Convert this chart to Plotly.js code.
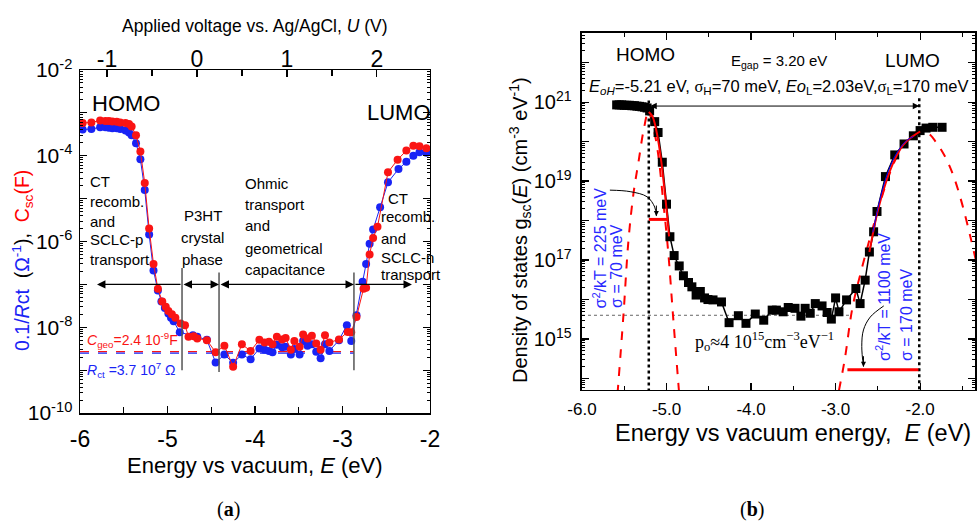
<!DOCTYPE html>
<html>
<head>
<meta charset="utf-8">
<script src="https://cdn.plot.ly/plotly-3.0.1.min.js"></script>
<style>html,body{margin:0;padding:0;background:#fff;}#chart{width:977px;height:522px;}</style>
</head>
<body>
<div id="chart"></div>
<script>
// ---------------- Panel (a) data ----------------
const E_csc = [-5.97,-5.87,-5.77,-5.71,-5.67,-5.63,-5.58,-5.54,-5.48,-5.44,-5.41,-5.36,-5.31,-5.26,-5.21,-5.16,-5.11,-5.06,-5.02,-4.99,-4.95,-4.91,-4.85,-4.80,-4.76,-4.70,-4.66,-4.55,-4.45,-4.35,-4.25,-4.15,-4.05,-3.95,-3.89,-3.84,-3.80,-3.75,-3.69,-3.65,-3.59,-3.55,-3.49,-3.45,-3.40,-3.35,-3.30,-3.25,-3.20,-3.15,-3.04,-2.94,-2.90,-2.84,-2.76,-2.73,-2.69,-2.65,-2.60,-2.48,-2.37,-2.27,-2.19,-2.12,-2.04];
const Csc = [5.8e-4,6.0e-4,6.6e-4,6.5e-4,6.5e-4,6.3e-4,6.2e-4,6.0e-4,5.8e-4,5.5e-4,4.8e-4,3.0e-4,1.26e-4,2.3e-5,2.0e-6,3.0e-7,7.9e-8,4.0e-8,3.0e-8,2.4e-8,2.0e-8,1.66e-8,1.23e-8,1.12e-8,6.0e-9,6.2e-9,5.5e-9,5.0e-9,2.6e-9,3.7e-9,1.2e-9,4.0e-9,2.8e-9,5.1e-9,4.4e-9,4.6e-9,4.0e-9,6.0e-9,5.2e-9,5.6e-9,3.0e-9,4.8e-9,3.5e-9,6.8e-9,5.5e-9,6.3e-9,4.2e-9,3.0e-9,6.5e-9,4.4e-9,5.2e-9,7.8e-9,7.6e-9,1.74e-8,7.9e-8,8.3e-8,5.0e-7,1.2e-6,2.2e-6,4.1e-5,8.1e-5,1.32e-4,1.7e-4,1.66e-4,1.5e-4];
const E_rct = [-5.97,-5.87,-5.77,-5.71,-5.67,-5.63,-5.58,-5.54,-5.48,-5.44,-5.41,-5.36,-5.31,-5.26,-5.21,-5.16,-5.11,-5.07,-5.03,-4.99,-4.96,-4.93,-4.86,-4.71,-4.66,-4.55,-4.45,-4.35,-4.25,-4.15,-4.05,-3.95,-3.89,-3.84,-3.80,-3.75,-3.69,-3.65,-3.59,-3.55,-3.49,-3.45,-3.40,-3.35,-3.30,-3.25,-3.20,-3.15,-3.04,-2.95,-2.90,-2.84,-2.77,-2.73,-2.69,-2.65,-2.57,-2.48,-2.36,-2.27,-2.19,-2.12,-2.04];
const invRct = [4.1e-4,4.2e-4,4.6e-4,4.6e-4,4.5e-4,4.4e-4,4.4e-4,4.2e-4,3.9e-4,3.5e-4,3.0e-4,1.95e-4,8.3e-5,1.6e-5,1.45e-6,2.1e-7,7.2e-8,4.0e-8,2.8e-8,2.1e-8,1.66e-8,1.38e-8,7.6e-9,6.5e-9,6.0e-9,5.1e-9,1.5e-9,2.3e-9,1.48e-9,2.3e-9,1.8e-9,3.2e-9,3.0e-9,2.8e-9,2.6e-9,3.9e-9,3.4e-9,3.5e-9,2.3e-9,3.1e-9,2.3e-9,4.8e-9,3.7e-9,4.0e-9,2.7e-9,1.9e-9,4.0e-9,2.8e-9,5.0e-9,1.12e-8,4.8e-9,1.9e-8,1.15e-7,3.0e-7,8.9e-7,1.9e-6,6.3e-6,2.4e-5,4.9e-5,7.2e-5,1.0e-4,1.2e-4,1.17e-4];
const cgeoLineE = [-6.0, -2.87];
const cgeoLineV = [2.7e-9, 2.7e-9];
const rctLineE = [-6.0, -2.87];
const rctLineV = [2.5e-9, 2.5e-9];
const regionBoundE = [-4.834, -4.411, -2.869];
const regionBoundTop = [2.4e-7, 1.9e-7, 1.9e-7];
const regionBoundBot = [1.0e-9, 9.1e-10, 1.0e-9];
const xTicksA = [-6,-5,-4,-3,-2];
const xTickTextA = ['-6','-5','-4','-3','-2'];
const uTicks = [-1,0,1,2];
const uTickText = ['-1','0','1','2'];
const yTicksA = [1e-10,1e-9,1e-8,1e-7,1e-6,1e-5,1e-4,1e-3,1e-2];
const yTickTextA = ['10<sup>-10</sup>','','10<sup>-8</sup>','','10<sup>-6</sup>','','10<sup>-4</sup>','','10<sup>-2</sup>'];

// ---------------- Panel (b) data ----------------
const E_dos = [-5.59,-5.56,-5.53,-5.50,-5.47,-5.44,-5.41,-5.38,-5.35,-5.32,-5.29,-5.26,-5.23,-5.20,-5.14,-5.10,-5.05,-5.00,-4.96,-4.91,-4.85,-4.80,-4.74,-4.70,-4.65,-4.60,-4.55,-4.51,-4.45,-4.35,-4.26,-4.15,-4.06,-3.95,-3.85,-3.75,-3.70,-3.62,-3.56,-3.48,-3.41,-3.36,-3.30,-3.24,-3.16,-3.10,-3.05,-3.00,-2.96,-2.87,-2.76,-2.71,-2.65,-2.60,-2.55,-2.51,-2.41,-2.30,-2.19,-2.08,-2.00,-1.93,-1.85,-1.74];
const gsc = [8.5e20,8.5e20,8.5e20,8.3e20,8.3e20,8.3e20,8.1e20,8.1e20,7.9e20,7.8e20,7.6e20,7.4e20,7.1e20,6.0e20,3.2e20,1.7e20,3.0e19,2.6e18,3.9e17,1.3e17,7.1e16,4.0e16,2.7e16,2.1e16,1.3e16,1.6e16,1.1e16,1.0e16,9.8e15,8.7e15,2.6e15,3.9e15,2.5e15,4.3e15,3.0e15,5.4e15,5.4e15,4.9e15,6.3e15,6.0e15,3.8e15,6.0e15,4.5e15,7.9e15,6.9e15,4.7e15,3.2e15,1.1e16,4.9e15,9.8e15,1.9e16,7.9e15,3.1e16,1.6e17,5.2e17,1.7e18,1.3e19,4.6e19,8.7e19,1.4e20,1.9e20,2.2e20,2.3e20,2.3e20];
const E_gaussH = [-5.58,-5.51,-5.45,-5.39,-5.33,-5.27,-5.215,-5.16,-5.10,-5.04,-4.98,-4.92,-4.85];
const gaussH = [4e13,4.0e15,3.2e17,5.0e18,3.2e19,2.0e20,5.6e20,2.5e20,5.0e19,3.2e18,1.6e17,3.2e15,4e13];
const E_gaussL = [-2.96,-2.89,-2.80,-2.70,-2.60,-2.50,-2.40,-2.30,-2.20,-2.10,-2.00,-1.90,-1.80,-1.70,-1.60,-1.50,-1.40,-1.33];
const gaussL = [5e13,3.2e14,6.3e15,5e16,3.2e17,1.8e18,8.9e18,3.2e19,7.9e19,1.4e20,1.9e20,1.6e20,8.9e19,4.0e19,1.26e19,2.5e18,3.5e17,7.9e16];
const E_fitH = [-5.21,-5.17,-5.14,-5.08,-5.02,-4.97];
const fitH = [5.6e20,4.5e20,2.9e20,6.0e19,5.0e18,4.0e17];
const E_fitL = [-2.60,-2.50,-2.40,-2.30,-2.20,-2.10,-2.00];
const fitL = [1.6e17,1.8e18,1.0e19,3.5e19,8.3e19,1.3e20,1.8e20];
const E_fitLb = [-2.56,-2.45,-2.35,-2.25,-2.15,-2.08];
const fitLb = [5.0e17,5.6e18,2.5e19,6.3e19,1.1e20,1.35e20];
const sigmaBarHE = [-5.21,-4.98];
const sigmaBarHV = [1.07e18,1.07e18];
const sigmaBarLE = [-2.86,-2.02];
const sigmaBarLV = [1.66e14,1.66e14];
const p0LineE = [-6.0,-2.83];
const p0LineV = [4e15,4e15];
const eoHLineE = [-5.21,-5.21];
const eoHLineV = [1.1e21,3e13];
const eoLLineE = [-2.01,-2.01];
const eoLLineV = [1.26e21,3e13];
const curveHE = [-5.67,-5.43,-5.23,-5.14,-5.12];
const curveHV = [5.9e18,5.4e18,4.0e18,2.2e18,1.3e18];
const curveLE = [-2.43,-2.59,-2.67,-2.69,-2.67];
const curveLV = [6.9e15,3.6e15,1.7e15,6.5e14,2.0e14];
const xTicksB = [-6,-5,-4,-3,-2];
const xTickTextB = ['-6.0','-5.0','-4.0','-3.0','-2.0'];
const yTicksB = [1e14,1e15,1e16,1e17,1e18,1e19,1e20,1e21,1e22];
const yTickTextB = ['','10<sup>15</sup>','','10<sup>17</sup>','','10<sup>19</sup>','','10<sup>21</sup>',''];

// ---------------- styling ----------------
const SANS = 'Liberation Sans, Arial, sans-serif';
const SERIF = 'Liberation Serif, Times New Roman, serif';
const RED = 'rgb(250,20,20)';
const BLUE = 'rgb(25,35,245)';
const TBLUE = 'rgb(40,40,255)';

function logMinor(lo, hi) {
  const v = [];
  for (let d = lo; d < hi; d++) for (let k = 2; k <= 9; k++) v.push(k * Math.pow(10, d));
  return v;
}

const traces = [
  {x: cgeoLineE, y: cgeoLineV, xaxis:'x', yaxis:'y', mode:'lines', line:{color:RED, width:1.2, dash:'dash'}},
  {x: rctLineE, y: rctLineV, xaxis:'x', yaxis:'y', mode:'lines', line:{color:BLUE, width:1.2, dash:'dash'}},
  {x: E_rct, y: invRct, xaxis:'x', yaxis:'y', mode:'lines+markers', line:{color:BLUE, width:1}, marker:{color:BLUE, size:8}},
  {x: E_csc, y: Csc, xaxis:'x', yaxis:'y', mode:'lines+markers', line:{color:RED, width:1}, marker:{color:RED, size:8}},
  {x: [null], y: [null], xaxis:'x2', yaxis:'y', mode:'markers', hoverinfo:'skip'},
  // panel b
  {x: p0LineE, y: p0LineV, xaxis:'x3', yaxis:'y2', mode:'lines', line:{color:'#666', width:1, dash:'dot'}},
  {x: eoHLineE, y: eoHLineV, xaxis:'x3', yaxis:'y2', mode:'lines', line:{color:'#000', width:2.5, dash:'dot'}},
  {x: eoLLineE, y: eoLLineV, xaxis:'x3', yaxis:'y2', mode:'lines', line:{color:'#000', width:2.5, dash:'dot'}},
  {x: E_gaussH, y: gaussH, xaxis:'x3', yaxis:'y2', mode:'lines', line:{color:'rgb(255,0,0)', width:2, dash:'dash', shape:'spline'}},
  {x: E_gaussL, y: gaussL, xaxis:'x3', yaxis:'y2', mode:'lines', line:{color:'rgb(255,0,0)', width:2, dash:'dash', shape:'spline'}},
  {x: E_dos, y: gsc, xaxis:'x3', yaxis:'y2', mode:'lines+markers', line:{color:'#000', width:1.5}, marker:{color:'#000', size:9, symbol:'square'}},
  {x: E_fitH, y: fitH, xaxis:'x3', yaxis:'y2', mode:'lines', line:{color:'rgb(255,0,0)', width:2, shape:'spline'}},
  {x: E_fitL, y: fitL, xaxis:'x3', yaxis:'y2', mode:'lines', line:{color:'rgb(255,0,0)', width:2, shape:'spline'}},
  {x: E_fitLb, y: fitLb, xaxis:'x3', yaxis:'y2', mode:'lines', line:{color:'rgb(0,0,255)', width:1, shape:'spline'}},
  {x: sigmaBarHE, y: sigmaBarHV, xaxis:'x3', yaxis:'y2', mode:'lines', line:{color:'rgb(255,0,0)', width:3}},
  {x: sigmaBarLE, y: sigmaBarLV, xaxis:'x3', yaxis:'y2', mode:'lines', line:{color:'rgb(255,0,0)', width:3}},
  {x: curveHE, y: curveHV, xaxis:'x3', yaxis:'y2', mode:'lines', line:{color:'#000', width:1, shape:'spline'}},
  {x: curveLE, y: curveLV, xaxis:'x3', yaxis:'y2', mode:'lines', line:{color:'#000', width:1, shape:'spline'}}
];
regionBoundE.forEach((e, i) => traces.push({x:[e,e], y:[regionBoundTop[i], regionBoundBot[i]], xaxis:'x', yaxis:'y', mode:'lines', line:{color:'#555', width:1.5}}));
traces.forEach(t => { t.showlegend = false; t.hoverinfo = 'skip'; });

const axBase = {showline:true, linecolor:'#000', linewidth:1.5, ticks:'inside', ticklen:7, tickwidth:1.2, tickcolor:'#000', showgrid:false, zeroline:false, tickmode:'array'};

const ann = [];
function txt(x, y, text, opts) {
  ann.push(Object.assign({x:x, y:y, xref:'x', yref:'y', text:text, showarrow:false, xanchor:'left', yanchor:'middle', font:{family:SANS, size:15, color:'#000'}}, opts || {}));
}
function lines(x, ys, arr, opts) { arr.forEach((t, i) => txt(x, ys[i], t, opts)); }

// panel (a) texts (y in log10 units)
txt(-5.886, -2.77, 'HOMO', {font:{family:SANS, size:22, color:'#000'}});
txt(-2.743, -2.98, 'LUMO', {font:{family:SANS, size:22, color:'#000'}});
lines(-5.909, [-4.604,-5.06,-5.536,-5.963,-6.413], ['CT','recomb.','and','SCLC-p','transport']);
lines(-4.60, [-5.387,-5.90,-6.43], ['P3HT','crystal','phase'], {xanchor:'center'});
lines(-4.141, [-4.641,-5.147,-5.636,-6.156,-6.662], ['Ohmic','transport','and','geometrical','capacitance']);
txt(-2.503, -4.99, 'CT');
lines(-2.579, [-5.42,-5.923,-6.366,-6.779], ['recomb.','and','SCLC-n','transport']);
txt(-5.943, -8.294, '<i>C</i><sub>geo</sub>=2.4 10<sup>-9</sup>F', {font:{family:SANS, size:14, color:RED}});
txt(-5.943, -8.993, '<i>R</i><sub>ct</sub> =3.7 10<sup>7</sup> Ω', {font:{family:SANS, size:14, color:BLUE}});
function arrow(xref, yref, x, y, ax, ay, both) {
  ann.push({xref:xref, yref:yref, x:x, y:y, axref:xref, ayref:yref, ax:ax, ay:ay, text:'', showarrow:true,
    arrowhead:2, arrowsize:1.3, arrowwidth:1.3, arrowcolor:'#000', arrowside: both ? 'end+start' : 'end', startarrowhead:2, startarrowsize:1.3});
}
arrow('x','y', -5.806, -7.0, regionBoundE[0], -7.0, false);
arrow('x','y', regionBoundE[1], -7.0, regionBoundE[0], -7.0, true);
arrow('x','y', regionBoundE[2], -7.0, regionBoundE[1], -7.0, true);
arrow('x','y', -2.206, -7.0, regionBoundE[2], -7.0, false);

// panel (b) texts
txt(-5.621, 22.193, 'HOMO', {xref:'x3', yref:'y2', font:{family:SANS, size:19, color:'#000'}});
txt(-3.669, 22.016, 'E<sub>gap</sub> = 3.20 eV', {xref:'x3', yref:'y2', xanchor:'center', font:{family:SANS, size:15, color:'#000'}});
txt(-2.438, 22.066, 'LUMO', {xref:'x3', yref:'y2', font:{family:SANS, size:19, color:'#000'}});
txt(-5.941, 21.383, '<i>E</i><sub><i>oH</i></sub>=-5.21 eV, <span style="font-family:Liberation Serif">σ</span><sub>H</sub>=70 meV, <i>Eo</i><sub>L</sub>=2.03eV,<span style="font-family:Liberation Serif">σ</span><sub>L</sub>=170 meV', {xref:'x3', yref:'y2', font:{family:SANS, size:16.5, color:'#000'}});
txt(-4.686, 14.927, 'p<sub>o</sub>≈4 10<sup>15</sup>cm<sup>−3</sup>eV<sup>−1</sup>', {xref:'x3', yref:'y2', font:{family:SERIF, size:18, color:'#000'}});
const rot = {xref:'x3', yref:'y2', textangle:-90, xanchor:'center', yanchor:'bottom', font:{family:SANS, size:16, color:TBLUE}};
txt(-5.787, 15.737, 'σ<sup>2</sup>/kT = 225 meV', rot);
txt(-5.586, 15.737, 'σ = 70 meV', rot);
txt(-2.438, 14.396, 'σ<sup>2</sup>/kT = 1100 meV', rot);
txt(-2.154, 14.396, 'σ = 170 meV', rot);
ann.push({xref:'x3', yref:'y2', x:-2.01, y:20.90, axref:'x3', ayref:'y2', ax:-5.21, ay:20.90, text:'', showarrow:true, arrowhead:2, arrowsize:1.3, arrowwidth:1, arrowcolor:'#000', arrowside:'end+start', startarrowhead:2, startarrowsize:1.3});
ann.push({xref:'x3', yref:'y2', x:-5.12, y:18.114, ax:0, ay:-12, text:'', showarrow:true, arrowhead:2, arrowsize:1, arrowwidth:1, arrowcolor:'#000'});
ann.push({xref:'x3', yref:'y2', x:-2.67, y:14.30, ax:0, ay:-12, text:'', showarrow:true, arrowhead:2, arrowsize:1, arrowwidth:1, arrowcolor:'#000'});

// axis titles & panel labels (paper coords)
function ptxt(x, y, text, size, opts) {
  ann.push(Object.assign({xref:'paper', yref:'paper', x:x, y:y, text:text, showarrow:false, xanchor:'center', yanchor:'middle', font:{family:SANS, size:size, color:'#000'}}, opts || {}));
}
ptxt(0.2610, 0.109, 'Energy vs vacuum, <i>E</i> (eV)', 22);
ptxt(0.2610, 0.950, 'Applied voltage vs. Ag/AgCl, <i>U</i> (V)', 17.5);
ptxt(0.0235, 0.502, '<span style="color:' + BLUE + '">0.1/<i>R</i>ct</span>&nbsp;&nbsp;(<span style="color:' + BLUE + '">Ω<sup>-1</sup></span>),&nbsp;&nbsp;<span style="color:rgb(255,0,0)">C<sub>sc</sub>(F)</span>', 19.5, {textangle:-90});
ptxt(0.8117, 0.170, 'Energy vs vacuum energy,&nbsp;&nbsp;<i>E</i> (eV)', 23.5);
ptxt(0.532, 0.559, 'Density of states g<sub>sc</sub>(<i>E</i>) (cm<sup>-3</sup> eV<sup>-1</sup>)', 20, {textangle:-90});
ptxt(0.2334, 0.023, '(<b>a</b>)', 20, {font:{family:SERIF, size:20, color:'#000'}});
ptxt(0.7697, 0.023, '(<b>b</b>)', 20, {font:{family:SERIF, size:20, color:'#000'}});

const layout = {
  width:977, height:522, margin:{l:0, r:0, t:0, b:0}, showlegend:false,
  paper_bgcolor:'#fff', plot_bgcolor:'#fff',
  xaxis: Object.assign({}, axBase, {domain:[0.0819,0.4401], anchor:'y', range:[-6,-2], tickvals:xTicksA, ticktext:xTickTextA,
    tickfont:{family:SANS, size:23, color:'#000'}, ticklabelstandoff:5, mirror:false,
    minor:{tickvals:[-5.5,-4.5,-3.5,-2.5], ticks:'inside', ticklen:6, tickwidth:1.2, tickcolor:'#000'}}),
  xaxis2: Object.assign({}, axBase, {overlaying:'x', side:'top', anchor:'y', range:[-1.30,2.59], tickvals:uTicks, ticktext:uTickText,
    tickfont:{family:SANS, size:23, color:'#000'}, ticklabelstandoff:-8,
    minor:{tickvals:[-0.5,0.5,1.5], ticks:'inside', ticklen:6, tickwidth:1.2, tickcolor:'#000'}}),
  yaxis: Object.assign({}, axBase, {domain:[0.2088,0.8659], anchor:'x', type:'log', range:[-10,-2], tickvals:yTicksA, ticktext:yTickTextA,
    tickfont:{family:SANS, size:21, color:'#000'}, mirror:'ticks', ticklabelstandoff:2,
    minor:{tickvals:logMinor(-10,-2), ticks:'inside', ticklen:3, tickwidth:1, tickcolor:'#000'}}),
  xaxis3: Object.assign({}, axBase, {domain:[0.5957,0.998], anchor:'y2', range:[-6,-1.35], tickvals:xTicksB, ticktext:xTickTextB,
    tickfont:{family:SANS, size:17, color:'#000'}, mirror:'ticks', ticklabelstandoff:3,
    minor:{tickvals:[-5.5,-4.5,-3.5,-2.5,-1.5], ticks:'inside', ticklen:4, tickwidth:1, tickcolor:'#000'}}),
  yaxis2: Object.assign({}, axBase, {domain:[0.2529,0.9368], anchor:'x3', type:'log', range:[13.71,22.75], tickvals:yTicksB, ticktext:yTickTextB,
    tickfont:{family:SANS, size:20, color:'#000'}, mirror:'ticks', ticklabelstandoff:5,
    minor:{tickvals:logMinor(13,23), ticks:'inside', ticklen:3, tickwidth:1, tickcolor:'#000'}}),
  annotations: ann
};

Plotly.newPlot('chart', traces, layout, {staticPlot:true, displayModeBar:false});
</script>
</body>
</html>
